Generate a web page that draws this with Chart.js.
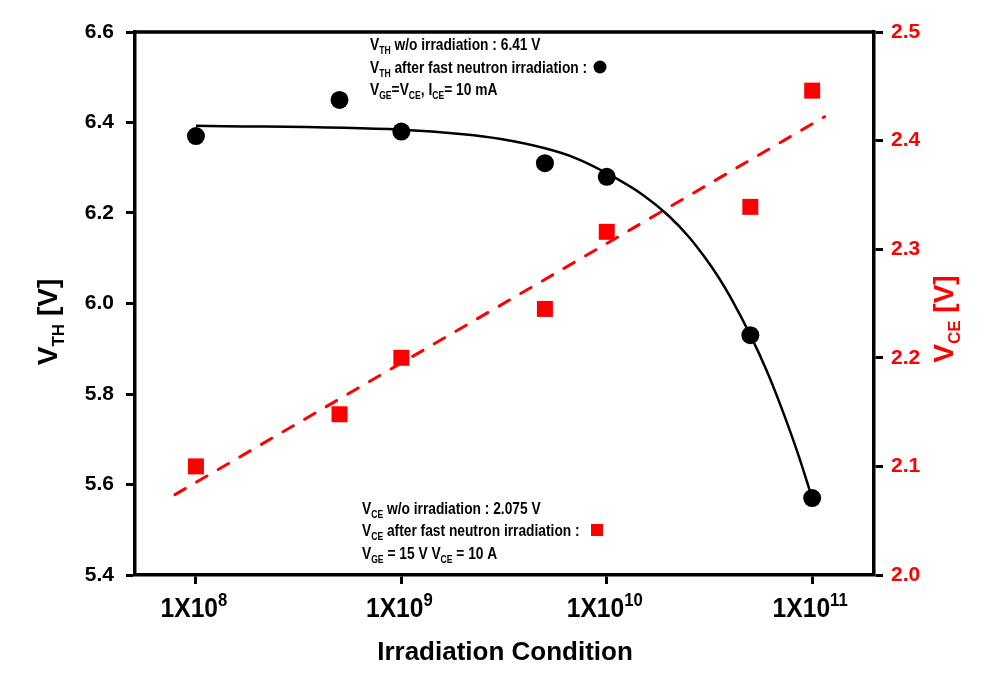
<!DOCTYPE html>
<html>
<head>
<meta charset="utf-8">
<script src="https://cdn.jsdelivr.net/npm/chart.js@4.4.0/dist/chart.umd.min.js"></script>
<style>
  html, body { margin: 0; padding: 0; background: #fff; }
  #wrap { width: 1001px; height: 674px; }
</style>
</head>
<body>
<div id="wrap"><canvas id="myChart" width="1001" height="674"></canvas></div>
<script>
// measured points
const irradiation = [1e8, 5e8, 1e9, 5e9, 1e10, 5e10, 1e11]
const vthValues = [6.37, 6.45, 6.38, 6.31, 6.28, 5.93, 5.57]
const vceValues = [2.100, 2.148, 2.200, 2.245, 2.316, 2.339, 2.446]

// fitted curves
const vthFitX = [1e8, 1e9, 2e9, 3e9, 5e9, 7e9, 1e10, 1.5e10, 2e10, 2.5e10, 3e10, 3.5e10, 4e10, 5e10, 6e10, 7e10, 8.5e10, 1e11]
const vthFitY = [6.393, 6.384, 6.374, 6.364, 6.343, 6.322, 6.288, 6.240, 6.194, 6.148, 6.102, 6.058, 6.014, 5.930, 5.852, 5.776, 5.670, 5.570]
const vceFitX = [7.9e7, 1.15e11]
const vceFitY = [2.074, 2.422]

// axis ticks
const xTicks = [1e8, 1e9, 1e10, 1e11]
const xTickExp = ['8', '9', '10', '11']
const vthTicks = [5.4, 5.6, 5.8, 6.0, 6.2, 6.4, 6.6]
const vceTicks = [2.0, 2.1, 2.2, 2.3, 2.4, 2.5]

const FONT = "'Liberation Sans', Arial, sans-serif"

const toPoints = (xs, ys) => xs.map((x, i) => ({ x: x, y: ys[i] }))

// parts: [text, kind] kind 0 normal, 1 subscript, 2 superscript
function partSize(k, size, small) {
  return k ? Math.round(size * small) : size
}

function richWidth(ctx, parts, size, small) {
  let w = 0
  parts.forEach(([t, k]) => {
    ctx.font = 'bold ' + partSize(k, size, small) + 'px ' + FONT
    w += ctx.measureText(t).width
  })
  return w
}

function drawRich(ctx, parts, x, y, size, color, align, hs, small) {
  hs = hs || 1
  small = small || 0.62
  ctx.save()
  ctx.translate(x, y)
  ctx.scale(hs, 1)
  ctx.fillStyle = color
  ctx.textBaseline = 'alphabetic'
  ctx.textAlign = 'left'
  let cx = align === 'center' ? -richWidth(ctx, parts, size, small) / 2 : 0
  parts.forEach(([t, k]) => {
    ctx.font = 'bold ' + partSize(k, size, small) + 'px ' + FONT
    let dy = 0
    if (k === 1) dy = size * 0.25
    if (k === 2) dy = -size * 0.4
    ctx.fillText(t, cx, dy)
    cx += ctx.measureText(t).width
  })
  ctx.restore()
}

const decorPlugin = {
  id: 'decor',
  afterDraw(chart) {
    const ctx = chart.ctx
    const area = chart.chartArea
    const xs = chart.scales.x

    // top frame line
    ctx.save()
    ctx.strokeStyle = '#000'
    ctx.lineWidth = 3.5
    ctx.beginPath()
    ctx.moveTo(area.left, area.top)
    ctx.lineTo(area.right, area.top)
    ctx.stroke()
    ctx.restore()

    // x tick labels 1X10^n
    xTicks.forEach((v, i) => {
      drawRich(ctx, [['1X10', 0], [xTickExp[i], 2]], xs.getPixelForValue(v) - 2, 617, 28, '#000', 'center', 0.88, 0.68)
    })

    // axis titles
    drawRich(ctx, [['Irradiation Condition', 0]], 505, 660, 26, '#000', 'center')

    ctx.save()
    ctx.translate(57, 322)
    ctx.rotate(-Math.PI / 2)
    drawRich(ctx, [['V', 0], ['TH', 1], [' [V]', 0]], 0, 0, 28, '#000', 'center')
    ctx.restore()

    ctx.save()
    ctx.translate(953, 319)
    ctx.rotate(-Math.PI / 2)
    drawRich(ctx, [['V', 0], ['CE', 1], [' [V]', 0]], 0, 0, 28, '#ff0000', 'center')
    ctx.restore()

    // annotations
    const s = 16
    const hs = 0.86
    drawRich(ctx, [['V', 0], ['TH', 1], [' w/o irradiation : 6.41 V', 0]], 370, 50, s, '#000', 'left', hs)
    drawRich(ctx, [['V', 0], ['TH', 1], [' after fast neutron irradiation :', 0]], 370, 73, s, '#000', 'left', hs)
    drawRich(ctx, [['V', 0], ['GE', 1], ['=V', 0], ['CE', 1], [', I', 0], ['CE', 1], ['= 10 mA', 0]], 370, 95, s, '#000', 'left', hs)
    ctx.save()
    ctx.fillStyle = '#000'
    ctx.beginPath()
    ctx.arc(600, 67, 6.5, 0, Math.PI * 2)
    ctx.fill()
    ctx.restore()

    drawRich(ctx, [['V', 0], ['CE', 1], [' w/o irradiation : 2.075 V', 0]], 362, 514, s, '#000', 'left', hs)
    drawRich(ctx, [['V', 0], ['CE', 1], [' after fast neutron irradiation :', 0]], 362, 536, s, '#000', 'left', hs)
    drawRich(ctx, [['V', 0], ['GE', 1], [' = 15 V V', 0], ['CE', 1], [' = 10 A', 0]], 362, 559, s, '#000', 'left', hs)
    ctx.save()
    ctx.fillStyle = '#ff0000'
    ctx.fillRect(591, 524, 12, 12)
    ctx.restore()
  }
}

const ctx = document.getElementById('myChart').getContext('2d')

const chart = new Chart(ctx, {
  type: 'line',
  data: {
    datasets: [
      {
        label: 'VTH',
        data: toPoints(irradiation, vthValues),
        yAxisID: 'y',
        showLine: false,
        pointStyle: 'circle',
        pointRadius: 9,
        pointBackgroundColor: '#000',
        pointBorderWidth: 0
      },
      {
        label: 'VCE',
        data: toPoints(irradiation, vceValues),
        yAxisID: 'y2',
        showLine: false,
        pointStyle: 'rect',
        pointRadius: 11.3,
        pointBackgroundColor: '#ff0000',
        pointBorderWidth: 0
      },
      {
        label: 'VTH fit',
        data: toPoints(vthFitX, vthFitY),
        yAxisID: 'y',
        borderColor: '#000',
        borderWidth: 2.5,
        pointRadius: 0,
        cubicInterpolationMode: 'monotone',
        fill: false
      },
      {
        label: 'VCE fit',
        data: toPoints(vceFitX, vceFitY),
        yAxisID: 'y2',
        borderColor: '#ff0000',
        borderWidth: 3,
        borderDash: [12, 13],
        borderCapStyle: 'round',
        pointRadius: 0,
        fill: false
      }
    ]
  },
  options: {
    responsive: false,
    animation: false,
    devicePixelRatio: 1,
    layout: { padding: { top: 32, left: 0, right: 0, bottom: 0 } },
    plugins: {
      legend: { display: false },
      tooltip: { enabled: false }
    },
    scales: {
      x: {
        type: 'logarithmic',
        min: 5.05e7,
        max: 2e11,
        afterBuildTicks: (scale) => { scale.ticks = xTicks.map(v => ({ value: v })) },
        afterFit: (scale) => { scale.height = 99 },
        border: { display: true, color: '#000', width: 3.5 },
        grid: { display: true, drawOnChartArea: false, drawTicks: true, tickLength: 9, tickWidth: 3, tickColor: '#000' },
        ticks: { display: false }
      },
      y: {
        position: 'left',
        min: 5.4,
        max: 6.6,
        afterBuildTicks: (scale) => { scale.ticks = vthTicks.map(v => ({ value: v })) },
        afterFit: (scale) => { scale.width = 135 },
        border: { display: true, color: '#000', width: 3.5 },
        grid: { display: true, drawOnChartArea: false, drawTicks: true, tickLength: 9, tickWidth: 3, tickColor: '#000' },
        ticks: {
          color: '#000',
          padding: 12,
          font: { family: FONT, size: 21, weight: 'bold' },
          callback: (v) => Number(v).toFixed(1)
        }
      },
      y2: {
        position: 'right',
        min: 2.0,
        max: 2.5,
        afterBuildTicks: (scale) => { scale.ticks = vceTicks.map(v => ({ value: v })) },
        afterFit: (scale) => { scale.width = 127 },
        border: { display: true, color: '#000', width: 3.5 },
        grid: { display: true, drawOnChartArea: false, drawTicks: true, tickLength: 9, tickWidth: 3, tickColor: '#000' },
        ticks: {
          color: '#ff0000',
          padding: 8,
          font: { family: FONT, size: 21, weight: 'bold' },
          callback: (v) => Number(v).toFixed(1)
        }
      }
    }
  },
  plugins: [decorPlugin]
})
</script>
</body>
</html>
